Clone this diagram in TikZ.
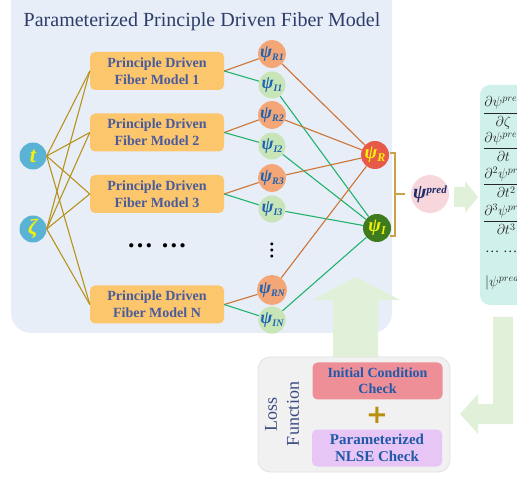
\documentclass[tikz,border=0pt]{standalone}
\usepackage{fontspec}
\setmainfont{Liberation Serif}
\newfontfamily\plusfont{DejaVu Sans}
\definecolor{panelblue}{HTML}{E7EEF8}
\definecolor{boxorange}{HTML}{FCC66D}
\definecolor{boxtext}{HTML}{4A5B9C}
\definecolor{tblue}{HTML}{5AB3D5}
\definecolor{tyellow}{HTML}{F4F10A}
\definecolor{psiRfill}{HTML}{F5A676}
\definecolor{psiIfill}{HTML}{C8E5B7}
\definecolor{psiblue}{HTML}{1D63B4}
\definecolor{bigR}{HTML}{E85A48}
\definecolor{bigI}{HTML}{3E7B1F}
\definecolor{goldline}{HTML}{B8931C}
\definecolor{orangeline}{HTML}{CE7434}
\definecolor{greenline}{HTML}{22B26B}
\definecolor{predpink}{HTML}{F7D6DC}
\definecolor{prednavy}{HTML}{1C2B69}
\definecolor{arrowgreen}{HTML}{E1F0D8}
\definecolor{mint}{HTML}{D0F1EB}
\definecolor{lossgray}{HTML}{F1F1F1}
\definecolor{lossborder}{HTML}{E2E2E2}
\definecolor{icpink}{HTML}{EE8E97}
\definecolor{nlsepurple}{HTML}{E7C5F5}
\definecolor{checkblue}{HTML}{2159AA}
\definecolor{plusgold}{HTML}{B8900E}
\definecolor{losstext}{HTML}{3B4A80}
\definecolor{titlecolor}{HTML}{2E3C6A}
\definecolor{bracketcol}{HTML}{C9A24A}
\newcommand{\psisub}[2]{ψ\raisebox{-3pt}{\fontsize{#2}{#2}\selectfont #1}}
\begin{document}
\begin{tikzpicture}[x=1pt,y=-1pt,
  modelbox/.style={fill=boxorange, rounded corners=5pt, minimum width=134pt, minimum height=38pt, align=center, inner sep=0pt, text=boxtext, font=\fontsize{14}{17}\selectfont\bfseries},
  inputc/.style={circle, fill=tblue, minimum size=27pt, inner sep=0pt, text=tyellow, font=\fontsize{22}{22}\selectfont\bfseries\itshape},
  psiRc/.style={circle, fill=psiRfill, minimum size=27pt, inner sep=0pt, text=psiblue, font=\fontsize{18}{18}\selectfont\bfseries\itshape},
  psiIc/.style={circle, fill=psiIfill, minimum size=27pt, inner sep=0pt, text=psiblue, font=\fontsize{18}{18}\selectfont\bfseries\itshape},
  bigc/.style={circle, minimum size=28pt, inner sep=0pt, text=tyellow, font=\fontsize{19}{19}\selectfont\bfseries\itshape},
  goldl/.style={draw=goldline, line width=1.1pt},
  orangel/.style={draw=orangeline, line width=1.1pt},
  greenl/.style={draw=greenline, line width=1.1pt},
  checkbox/.style={rounded corners=5pt, minimum width=130pt, minimum height=37pt, align=center, inner sep=0pt, text=checkblue},
  fracnode/.style={anchor=west, inner sep=0pt, text=black!85, font=\fontsize{14.4}{16}\selectfont},
  blockarrow/.style={fill=arrowgreen, draw=none}
]
\useasboundingbox (0,0) rectangle (517,478);
\clip (0,0) rectangle (517,478);

% left panel
\fill[panelblue, rounded corners=20pt] (11,-25) rectangle (392,333);
\node[text=titlecolor, font=\fontsize{20}{22}\selectfont] (title) at (202,22) {Parameterized Principle Driven Fiber Model};

% right panel
\fill[mint, rounded corners=10pt] (480,85) rectangle (545,305);

% up arrow (loss to model)
\fill[blockarrow] (333,358) -- (333,300) -- (312,300) -- (356,277) -- (400,300) -- (378,300) -- (378,358) -- cycle;

% inputs
\node[inputc] (t) at (33,156) {t};
\node[inputc] (z) at (33,229) {ζ};

% model boxes
\node[modelbox] (m1) at (157,71) {Principle Driven\\Fiber Model 1};
\node[modelbox] (m2) at (157,132.5) {Principle Driven\\Fiber Model 2};
\node[modelbox] (m3) at (157,194) {Principle Driven\\Fiber Model 3};
\node[modelbox] (mN) at (157,304.5) {Principle Driven\\Fiber Model N};
\node[font=\fontsize{26}{26}\selectfont\bfseries, inner sep=0pt] (hdots) at (157,246) {…\hspace{8pt}…};

% psi k nodes
\node[psiRc] (r1) at (272,54) {\psisub{R1}{10}};
\node[psiIc] (i1) at (272,85) {\psisub{I1}{10}};
\node[psiRc] (r2) at (272,115) {\psisub{R2}{10}};
\node[psiIc] (i2) at (272,146) {\psisub{I2}{10}};
\node[psiRc] (r3) at (272,178) {\psisub{R3}{10}};
\node[psiIc] (i3) at (272,209) {\psisub{I3}{10}};
\node[font=\fontsize{18}{18}\selectfont\bfseries, rotate=90, inner sep=0pt] (vdots) at (272,251) {…};
\node[psiRc] (rN) at (272,290) {\psisub{RN}{10}};
\node[psiIc] (iN) at (272,320) {\psisub{IN}{10}};

% output psi
\node[bigc, fill=bigR] (pR) at (375,155) {\psisub{R}{12}};
\node[bigc, fill=bigI] (pI) at (377,228) {\psisub{I}{12}};

% gold connectors
\foreach \m in {m1,m2,m3,mN}{
  \draw[goldl] (t.east) -- (\m.west);
  \draw[goldl] (z.east) -- (\m.west);
}
% model to psi_k
\foreach \m/\r/\i in {m1/r1/i1, m2/r2/i2, m3/r3/i3, mN/rN/iN}{
  \draw[orangel] (\m.east) -- (\r);
  \draw[greenl] (\m.east) -- (\i);
  \draw[orangel] (\r) -- (pR);
  \draw[greenl] (\i) -- (pI);
}

% bracket
\coordinate (bt) at (395,153);
\coordinate (bb) at (395,236);
\coordinate (bm) at (395,194);
\coordinate (bmr) at (405,194);
\draw[bracketcol, line width=1.1pt] ([xshift=-5pt]bt) -- (bt) -- (bb) -- ([xshift=-5pt]bb);
\draw[bracketcol, line width=1.1pt] (bm) -- (bmr);

% psi pred
\node[circle, fill=predpink, minimum size=38pt, inner sep=0pt, text=prednavy] (pred) at (430,194)
  {\fontsize{20}{20}\selectfont\bfseries\itshape ψ\raisebox{5pt}{\fontsize{11}{11}\selectfont pred}};

% arrow pred -> panel
\fill[blockarrow] (454,187) -- (465,187) -- (465,181) -- (478,197) -- (465,213) -- (465,207) -- (454,207) -- cycle;

% fractions
\node[fracnode] (f1) at (483,112) {$\displaystyle\frac{\partial\psi^{pred}}{\partial\zeta}$};
\node[fracnode] (f2) at (483,146) {$\displaystyle\frac{\partial\psi^{pred}}{\partial t}$};
\node[fracnode] (f3) at (483,182) {$\displaystyle\frac{\partial^{2}\psi^{pred}}{\partial t^{2}}$};
\node[fracnode] (f4) at (483,219) {$\displaystyle\frac{\partial^{3}\psi^{pred}}{\partial t^{3}}$};
\node[fracnode] (f5) at (485,252) {…\ …};
\node[fracnode] (f6) at (485,282) {$|\psi^{pred}|^{2}$};

% L arrow panel -> loss
\fill[blockarrow] (493,317) -- (513,317) -- (513,424) -- (478,424) -- (478,434) -- (460,414) -- (478,394) -- (478,404) -- (493,404) -- cycle;

% loss function box
\draw[fill=lossgray, draw=lossborder, line width=0.8pt, rounded corners=12pt] (258,357) rectangle (450,472);
\node[rotate=90, align=center, text=losstext, font=\fontsize{18}{22}\selectfont] (lossf) at (282,414) {Loss\\Function};
\node[checkbox, fill=icpink, font=\fontsize{14}{16}\selectfont\bfseries] (ic) at (377.5,381) {Initial Condition\\Check};
\node[text=plusgold, font=\fontsize{26}{26}\plusfont\bfseries, inner sep=0pt] (plus) at (377,415) {+};
\node[checkbox, fill=nlsepurple, font=\fontsize{15}{17}\selectfont\bfseries] (nlse) at (377,448) {Parameterized\\NLSE Check};
\end{tikzpicture}
\end{document}
